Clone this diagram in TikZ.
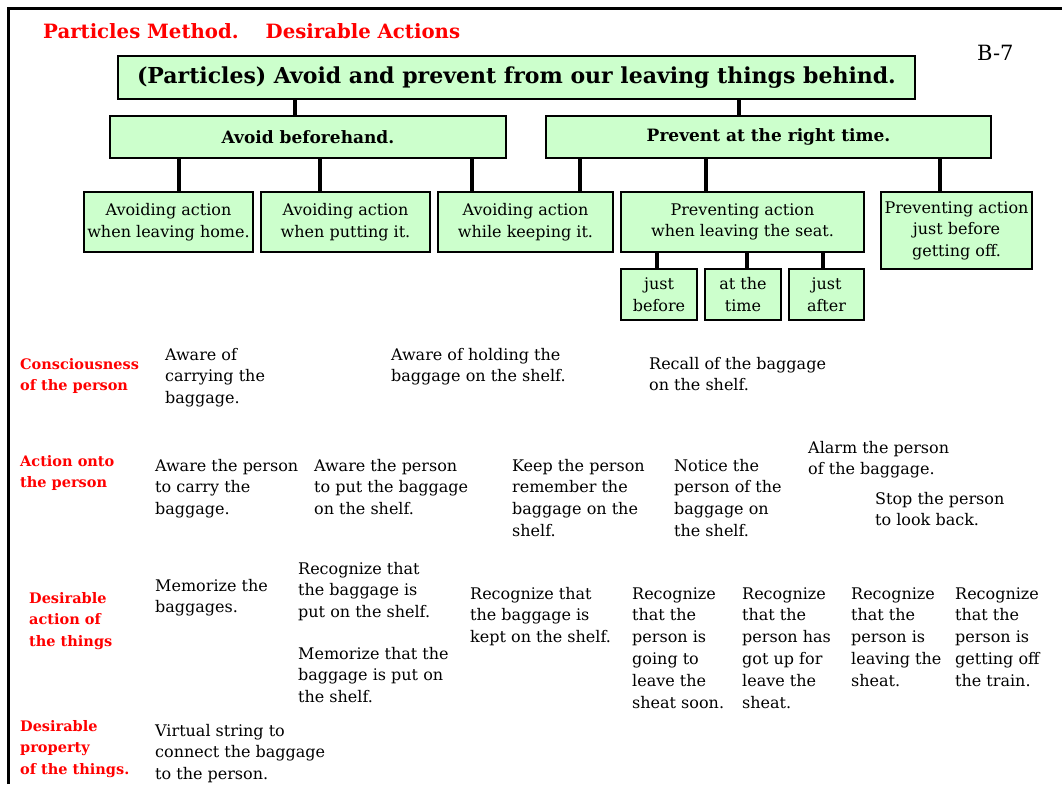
\documentclass[tikz,border=0pt]{standalone}
\usepackage{fontspec}
\setmainfont{DejaVu Serif}
\usepackage{xcolor}
\usepackage{tikz}
\usetikzlibrary{positioning,calc}
\definecolor{boxgreen}{HTML}{CCFFCC}
\definecolor{headred}{HTML}{FF0000}

\tikzset{
  box/.style={draw=black, line width=1.6pt, fill=boxgreen, inner sep=0pt, align=center},
  hdbox/.style={box, font=\fontsize{17}{20}\selectfont\bfseries},
  actbox/.style={box, font=\fontsize{16}{21.5}\selectfont},
  % multi-line texts: placed at the baseline of their last line
  txt/.style={anchor=base west, inner sep=0pt, align=left, font=\fontsize{16}{21.8}\selectfont},
  rowlabel/.style={anchor=base west, inner sep=0pt, align=left, text=headred, font=\fontsize{14.5}{21.6}\selectfont\bfseries},
  link/.style={line width=3.2pt}
}

\begin{document}
\begin{tikzpicture}[x=1pt,y=-1pt]
	\useasboundingbox (0,0) rectangle (1062,784);
	\fill[white] (0,0) rectangle (1062,784);
	\draw[line width=3pt] (8.5,784) -- (8.5,8.5) -- (1062,8.5);

	% title
	\node[anchor=base west, inner sep=0pt, text=headred, font=\fontsize{19.7}{22}\selectfont\bfseries] (title) at (43,39) {Particles Method.\hspace{27pt}Desirable Actions};
	\node[anchor=base west, inner sep=0pt, font=\fontsize{21}{24}\selectfont] (pageno) at (977,60) {B-7};

	% tree of actions
	\node[box, minimum width=797, minimum height=43, font=\fontsize{22}{26}\selectfont\bfseries] (goal) at (516.5,77.5) {(Particles) Avoid and prevent from our leaving things behind.};
	\node[hdbox, minimum width=396, minimum height=42] (avoid) at (308,137) {Avoid beforehand.};
	\node[hdbox, minimum width=445, minimum height=42] (prevent) at (768.5,137) {Prevent at the right time.};

	\node[actbox, minimum width=169, minimum height=60] (home) at (168.5,222) {Avoiding action\\when leaving home.};
	\node[actbox, minimum width=169, minimum height=60] (putting) at (345.5,222) {Avoiding action\\when putting it.};
	\node[actbox, minimum width=175, minimum height=60] (keeping) at (525.5,222) {Avoiding action\\while keeping it.};
	\node[actbox, minimum width=243, minimum height=60] (seat) at (742.5,222) {Preventing action\\when leaving the seat.};
	\node[actbox, minimum width=151, minimum height=77] (getoff) at (956.5,230.5) {Preventing action\\just before\\getting off.};

	\node[actbox, minimum width=76, minimum height=51] (before) at (659,294.5) {just\\before};
	\node[actbox, minimum width=76, minimum height=51] (attime) at (743,294.5) {at the\\time};
	\node[actbox, minimum width=75, minimum height=51] (after) at (826.5,294.5) {just\\after};

	% joints of the links
	\coordinate (j1) at (295,0);
	\coordinate (j2) at (739,0);
	\coordinate (j3) at (179,0);
	\coordinate (j4) at (320,0);
	\coordinate (j5) at (472,0);
	\coordinate (j6) at (580,0);
	\coordinate (j7) at (706,0);
	\coordinate (j8) at (940,0);
	\coordinate (j9) at (657,0);
	\coordinate (j10) at (747,0);
	\coordinate (j11) at (823,0);

	\draw[link] (goal.south -| j1) -- (avoid.north -| j1);
	\draw[link] (goal.south -| j2) -- (prevent.north -| j2);
	\draw[link] (avoid.south -| j3) -- (home.north -| j3);
	\draw[link] (avoid.south -| j4) -- (putting.north -| j4);
	\draw[link] (avoid.south -| j5) -- (keeping.north -| j5);
	\draw[link] (prevent.south -| j6) -- (keeping.north -| j6);
	\draw[link] (prevent.south -| j7) -- (seat.north -| j7);
	\draw[link] (prevent.south -| j8) -- (getoff.north -| j8);
	\draw[link] (seat.south -| j9) -- (before.north -| j9);
	\draw[link] (seat.south -| j10) -- (attime.north -| j10);
	\draw[link] (seat.south -| j11) -- (after.north -| j11);

	% rows
	\node[rowlabel] (consc) at (20,390.6) {Consciousness\\of the person};
	\node[rowlabel] (onto) at (20,487.6) {Action onto\\the person};
	\node[rowlabel] (doing) at (29,646.2) {Desirable\\action of\\the things};
	\node[rowlabel] (prop) at (20,774.2) {Desirable\\property\\of the things.};

	\node[txt] (c1) at (165,403.6) {Aware of\\carrying the\\baggage.};
	\node[txt] (c2) at (391,381.8) {Aware of holding the\\baggage on the shelf.};
	\node[txt] (c3) at (649,390.8) {Recall of the baggage\\on the shelf.};

	\node[txt] (a1) at (155,514.6) {Aware the person\\to carry the\\baggage.};
	\node[txt] (a2) at (314,514.6) {Aware the person\\to put the baggage\\on the shelf.};
	\node[txt] (a3) at (512,536.4) {Keep the person\\remember the\\baggage on the\\shelf.};
	\node[txt] (a4) at (674,536.4) {Notice the\\person of the\\baggage on\\the shelf.};
	\node[txt] (a5) at (808,474.8) {Alarm the person\\of the baggage.};
	\node[txt] (a6) at (875,525.8) {Stop the person\\to look back.};

	\node[txt] (d1) at (155,612.8) {Memorize the\\baggages.};
	\node[txt] (d2) at (298,617.6) {Recognize that\\the baggage is\\put on the shelf.};
	\node[txt] (d3) at (298,702.6) {Memorize that the\\baggage is put on\\the shelf.};
	\node[txt] (d4) at (470,642.6) {Recognize that\\the baggage is\\kept on the shelf.};
	\node[txt] (d5) at (632,708) {Recognize\\that the\\person is\\going to\\leave the\\sheat soon.};
	\node[txt] (d6) at (742,708) {Recognize\\that the\\person has\\got up for\\leave the\\sheat.};
	\node[txt] (d7) at (851,686.2) {Recognize\\that the\\person is\\leaving the\\sheat.};
	\node[txt] (d8) at (955,686.2) {Recognize\\that the\\person is\\getting off\\the train.};

	\node[txt] (p1) at (155,779.6) {Virtual string to\\connect the baggage\\to the person.};
\end{tikzpicture}
\end{document}
